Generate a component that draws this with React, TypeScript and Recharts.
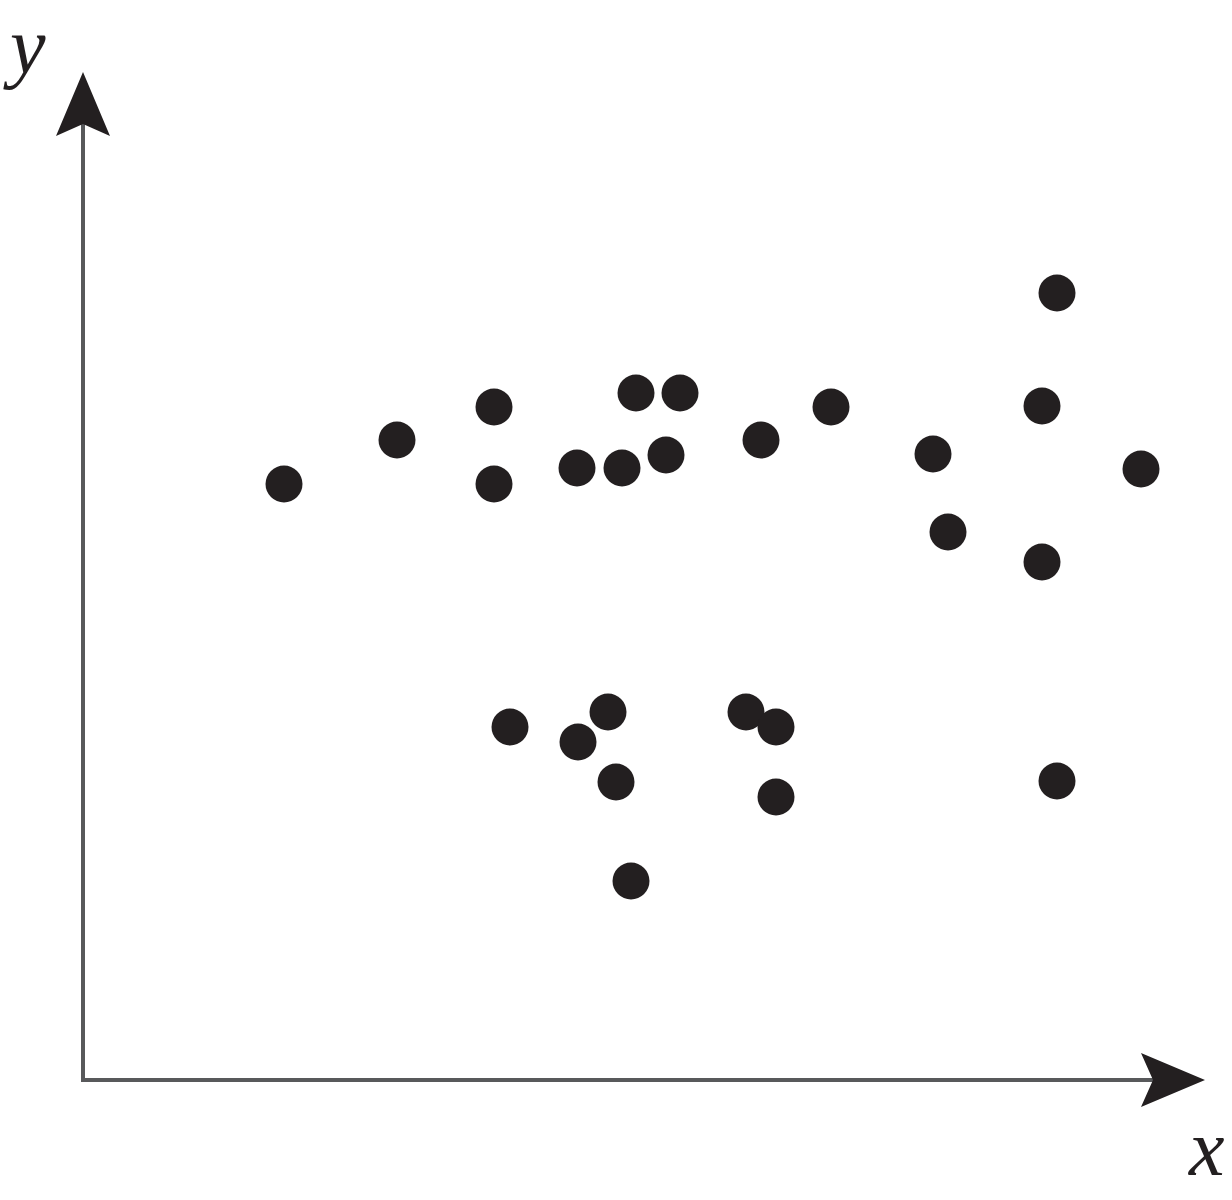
import React from "react";
import { ScatterChart, Scatter, XAxis, YAxis, ReferenceLine } from "recharts";

// Data values (x: horizontal position, y: vertical position)
const xValues = [
  20.1, 31.4, 41.1, 41.1, 49.4, 53.9, 55.3, 59.7, 58.3, 67.8, 74.8, 85.0, 86.5,
  95.9, 97.4, 105.8, 95.9, 42.7, 49.5, 52.5, 53.3, 54.8, 66.3, 69.3, 69.3, 97.4,
];
const yValues = [
  59.6, 64.0, 67.3, 59.6, 61.2, 61.2, 68.7, 68.7, 62.5, 64.0, 67.3, 62.6, 54.8,
  67.4, 78.7, 61.1, 51.8, 35.3, 33.8, 36.8, 29.8, 19.9, 36.8, 35.3, 28.3, 29.9,
];
const xDomain = [0, 112.2];
const yDomain = [0, 100.8];
const xLabel = "x";
const yLabel = "y";

const points = xValues.map((x, i) => ({ x, y: yValues[i] }));

const AXIS_COLOR = "#58595b";
const DOT_COLOR = "#231f20";

const Dot = (props: any) => (
  <circle cx={props.cx} cy={props.cy} r={18.5} fill={DOT_COLOR} />
);

const YAxisShape = (props: any) => {
  const { x1, y1, y2 } = props;
  const by = Math.max(y1, y2);
  const tipY = Math.min(y1, y2);
  const cx = x1;
  return (
    <g>
      <line x1={cx} y1={by} x2={cx} y2={tipY + 50} stroke={AXIS_COLOR} strokeWidth={4} />
      <polygon
        points={`${cx},${tipY} ${cx + 27},${tipY + 64} ${cx},${tipY + 52} ${cx - 27},${tipY + 64}`}
        fill={DOT_COLOR}
      />
      <text
        x={cx - 73}
        y={tipY + 1}
        fontFamily="'Liberation Serif', 'DejaVu Serif', serif"
        fontStyle="italic"
        fontSize={80}
        fill={DOT_COLOR}
      >
        {yLabel}
      </text>
    </g>
  );
};

const XAxisShape = (props: any) => {
  const { x1, y1, x2 } = props;
  const left = Math.min(x1, x2);
  const tipX = Math.max(x1, x2);
  const cy = y1;
  return (
    <g>
      <line x1={left - 2} y1={cy} x2={tipX - 50} y2={cy} stroke={AXIS_COLOR} strokeWidth={4} />
      <polygon
        points={`${tipX},${cy} ${tipX - 64},${cy + 27} ${tipX - 52},${cy} ${tipX - 64},${cy - 27}`}
        fill={DOT_COLOR}
      />
      <text
        x={tipX - 16}
        y={cy + 95}
        fontFamily="'Liberation Serif', 'DejaVu Serif', serif"
        fontStyle="italic"
        fontSize={80}
        fill={DOT_COLOR}
      >
        {xLabel}
      </text>
    </g>
  );
};

export default function App() {
  return (
    <div style={{ position: "absolute", left: 0, top: 0, width: 1232, height: 1200, background: "#fff" }}>
      <ScatterChart
        width={1232}
        height={1200}
        margin={{ top: 72, right: 27, bottom: 120, left: 83 }}
      >
        <XAxis type="number" dataKey="x" domain={xDomain} hide />
        <YAxis type="number" dataKey="y" domain={yDomain} hide />
        <ReferenceLine
          segment={[
            { x: xDomain[0], y: yDomain[0] },
            { x: xDomain[0], y: yDomain[1] },
          ]}
          shape={YAxisShape}
          ifOverflow="visible"
        />
        <ReferenceLine
          segment={[
            { x: xDomain[0], y: yDomain[0] },
            { x: xDomain[1], y: yDomain[0] },
          ]}
          shape={XAxisShape}
          ifOverflow="visible"
        />
        <Scatter data={points} shape={Dot} isAnimationActive={false} />
      </ScatterChart>
    </div>
  );
}
